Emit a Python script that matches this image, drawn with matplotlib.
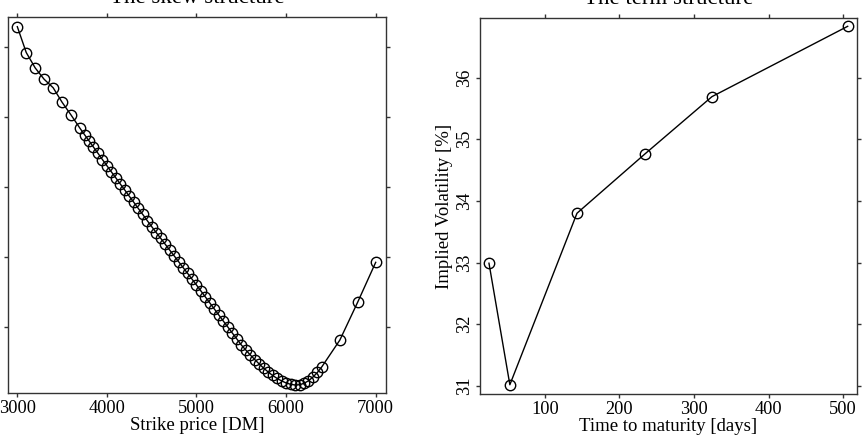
import numpy as np
import matplotlib
matplotlib.use("Agg")
import matplotlib.pyplot as plt

plt.rcParams['font.family'] = ['Liberation Serif', 'DejaVu Serif']

# skew structure: strike price [DM] vs implied volatility [%]
strikes = [3000, 3100, 3200, 3300, 3400, 3500, 3600,
           3700, 3750, 3800, 3850, 3900, 3950, 4000, 4050, 4100, 4150,
           4200, 4250, 4300, 4350, 4400, 4450, 4500, 4550, 4600, 4650,
           4700, 4750, 4800, 4850, 4900, 4950, 5000, 5050, 5100, 5150,
           5200, 5250, 5300, 5350, 5400, 5450, 5500, 5550, 5600, 5650,
           5700, 5750, 5800, 5850, 5900, 5950, 6000, 6050, 6100, 6150,
           6200, 6250, 6300, 6350, 6400, 6600, 6800, 7000]
skew_vol = [56.47, 54.62, 53.52, 52.71, 52.11, 51.07, 50.16,
            49.21, 48.76, 48.32, 47.87, 47.43, 46.98, 46.54, 46.10, 45.67, 45.23,
            44.80, 44.36, 43.93, 43.49, 43.06, 42.62, 42.19, 41.77, 41.36, 40.94,
            40.52, 40.11, 39.69, 39.27, 38.86, 38.44, 38.02, 37.59, 37.16, 36.73,
            36.30, 35.87, 35.44, 35.02, 34.59, 34.17, 33.74, 33.38, 33.03, 32.70,
            32.38, 32.08, 31.81, 31.56, 31.35, 31.17, 31.03, 30.93, 30.88, 30.90,
            31.00, 31.18, 31.45, 31.78, 32.19, 34.09, 36.81, 39.64]

# term structure: days to maturity vs implied volatility [%]
days = [25, 53, 143, 234, 324, 506]
term_vol = [32.99, 31.02, 33.80, 34.76, 35.69, 36.83]

fig = plt.figure(figsize=(8.68, 4.44), dpi=100)

ax1 = fig.add_axes([0.0092, 0.1149, 0.4355, 0.8468])
ax2 = fig.add_axes([0.5526, 0.1119, 0.4343, 0.8469])

def estilo(ax):
    for s in ax.spines.values():
        s.set_linewidth(1.0)
        s.set_color('#333333')
    ax.tick_params(direction='out', length=3, width=1, top=True, right=True,
                   labelsize=13.2, color='#333333', pad=2)
    for lab in ax.get_yticklabels():
        lab.set_rotation(90)
        lab.set_va('center')

# skew
ax1.plot(strikes, skew_vol, '-o', color='black', lw=1.0, ms=7.5,
         mfc='none', mec='black', mew=1.0)
ax1.set_xlim(2896, 7115)
ax1.set_ylim(30.31, 57.16)
ax1.set_xticks([3000, 4000, 5000, 6000, 7000])
ax1.set_yticks([35, 40, 45, 50, 55])
ax1.set_xlabel('Strike price [DM]', fontsize=13.5, labelpad=0)
ax1.set_ylabel('Implied Volatility [%]', fontsize=13.5)
ax1.set_title('The skew structure', fontsize=16.5, pad=10)
estilo(ax1)

# term
ax2.plot(days, term_vol, '-o', color='black', lw=1.0, ms=7.5,
         mfc='none', mec='black', mew=1.0)
ax2.set_xlim(12.5, 518)
ax2.set_ylim(30.865, 36.96)
ax2.set_xticks([100, 200, 300, 400, 500])
ax2.set_yticks([31, 32, 33, 34, 35, 36])
ax2.set_xlabel('Time to maturity [days]', fontsize=13.5, labelpad=0)
ax2.set_ylabel('Implied Volatility [%]', fontsize=13.5, labelpad=2)
ax2.set_title('The term structure', fontsize=16.5, pad=10)
estilo(ax2)

fig.savefig('out.png', dpi=100)
